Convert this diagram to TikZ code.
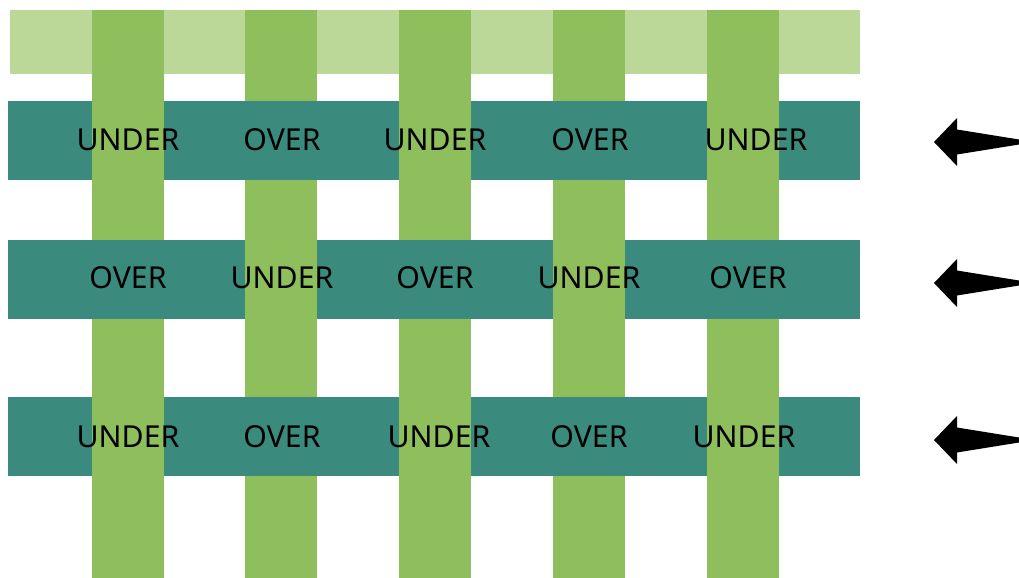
\documentclass[tikz,border=0pt]{standalone}
\usepackage{fontspec}
\newfontfamily\weavefont{Noto Sans}
\usetikzlibrary{positioning}

\begin{document}
\begin{tikzpicture}[x=0.025cm, y=-0.025cm,
    weavelabel/.style={font=\weavefont\fontsize{21.5}{26}\selectfont, text=black, inner sep=0pt, anchor=base}]

  \useasboundingbox (0,0) rectangle (1019,578);

  % Colours of the weave
  \definecolor{warpLight}{RGB}{187,216,153}  % top band
  \definecolor{warpGreen}{RGB}{143,190,93}   % vertical strips
  \definecolor{weftTeal}{RGB}{58,139,126}    % horizontal rows

  % Top light band
  \fill[warpLight] (10,10) rectangle (860,74);

  % Vertical strips
  \fill[warpGreen] (92,10) rectangle (164,578);
  \fill[warpGreen] (245,10) rectangle (317,578);
  \fill[warpGreen] (399,10) rectangle (471,578);
  \fill[warpGreen] (553,10) rectangle (625,578);
  \fill[warpGreen] (707,10) rectangle (779,578);

  % Horizontal rows (drawn over the strips)
  \fill[weftTeal] (8,101) rectangle (860,180);
  \fill[weftTeal] (8,240) rectangle (860,319);
  \fill[weftTeal] (8,397) rectangle (860,476);

  % Strips coming back on top where the row goes under
  \fill[warpGreen] (92,101) rectangle (164,180);
  \fill[warpGreen] (399,101) rectangle (471,180);
  \fill[warpGreen] (707,101) rectangle (779,180);

  \fill[warpGreen] (245,240) rectangle (317,319);
  \fill[warpGreen] (553,240) rectangle (625,319);

  \fill[warpGreen] (92,397) rectangle (164,476);
  \fill[warpGreen] (399,397) rectangle (471,476);
  \fill[warpGreen] (707,397) rectangle (779,476);

  % Row 1 labels
  \node[weavelabel] (r1a) at (128,150) {UNDER};
  \node[weavelabel] (r1b) at (282,150) {OVER};
  \node[weavelabel] (r1c) at (435,150) {UNDER};
  \node[weavelabel] (r1d) at (590,150) {OVER};
  \node[weavelabel] (r1e) at (756,150) {UNDER};

  % Row 2 labels
  \node[weavelabel] (r2a) at (128,288) {OVER};
  \node[weavelabel] (r2b) at (282,288) {UNDER};
  \node[weavelabel] (r2c) at (435,288) {OVER};
  \node[weavelabel] (r2d) at (589,288) {UNDER};
  \node[weavelabel] (r2e) at (748,288) {OVER};

  % Row 3 labels
  \node[weavelabel] (r3a) at (128,447) {UNDER};
  \node[weavelabel] (r3b) at (282,447) {OVER};
  \node[weavelabel] (r3c) at (439,447) {UNDER};
  \node[weavelabel] (r3d) at (589,447) {OVER};
  \node[weavelabel] (r3e) at (744,447) {UNDER};

  % Direction arrows on the right
  \fill[black] (934,142) -- (957,118) -- (957,129.5) -- (1019,139.5)
    -- (1019,144.5) -- (957,154.5) -- (957,166) -- cycle;
  \fill[black] (934,283) -- (957,259) -- (957,270.5) -- (1019,280.5)
    -- (1019,285.5) -- (957,295.5) -- (957,307) -- cycle;
  \fill[black] (934,440) -- (957,416) -- (957,427.5) -- (1019,437.5)
    -- (1019,442.5) -- (957,452.5) -- (957,464) -- cycle;

\end{tikzpicture}
\end{document}
